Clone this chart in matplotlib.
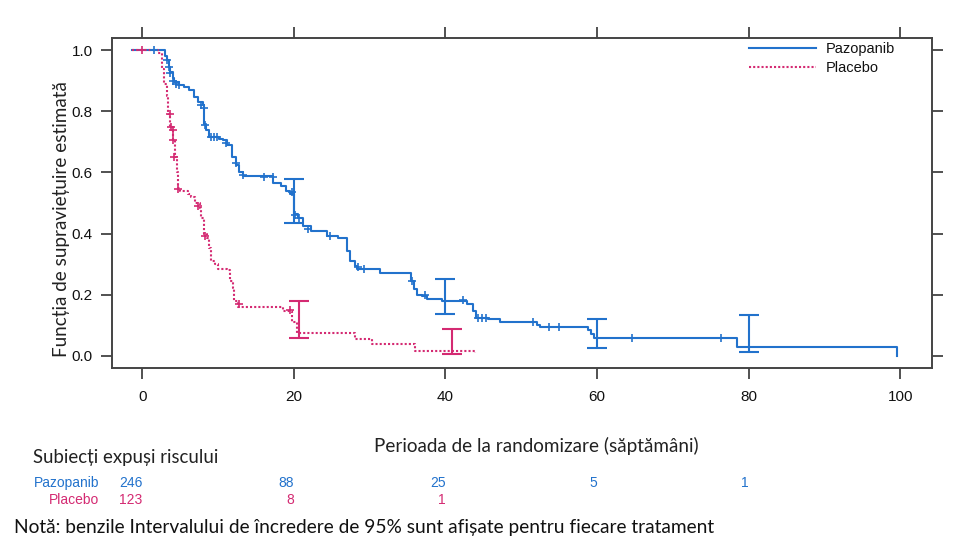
import numpy as np
import matplotlib
matplotlib.use("Agg")
import matplotlib.pyplot as plt
import matplotlib.transforms as mtransforms

# Kaplan-Meier step points (weeks, survival)
paz_t = [-1.3, 3.0, 3.3, 3.5, 3.7, 4.0, 4.2, 4.8, 5.5, 6.1, 6.8, 7.4, 8.0, 8.2, 8.4, 8.8,
         10.1, 10.7, 11.2, 11.9, 12.3, 12.7, 13.3, 17.3, 18.3, 19.0, 19.5, 20.0, 20.5,
         21.2, 22.2, 24.4, 25.8, 27.0, 27.4, 28.0, 28.3, 31.4, 35.4, 35.8, 36.3, 36.9,
         37.6, 39.5, 42.9, 43.6, 44.0, 45.6, 47.2, 52.1, 52.5, 58.8, 59.2, 59.6, 78.5, 99.6]
paz_s = [1.0, 0.98, 0.967, 0.945, 0.93, 0.91, 0.895, 0.885, 0.88, 0.87, 0.846, 0.83, 0.82,
         0.76, 0.738, 0.715, 0.71, 0.705, 0.69, 0.65, 0.623, 0.60, 0.587, 0.567, 0.557,
         0.54, 0.53, 0.465, 0.45, 0.426, 0.41, 0.393, 0.387, 0.344, 0.31, 0.295, 0.285,
         0.27, 0.246, 0.22, 0.20, 0.197, 0.187, 0.18, 0.17, 0.148, 0.125, 0.12, 0.11,
         0.10, 0.093, 0.085, 0.07, 0.057, 0.03, 0.0]

pla_t = [-1.3, 2.1, 2.6, 2.9, 3.2, 3.4, 3.6, 4.0, 4.1, 4.3, 4.6, 4.7, 5.0, 6.0, 6.4, 6.9,
         7.6, 7.8, 8.1, 8.6, 8.8, 9.1, 9.6, 10.0, 11.2, 11.6, 12.0, 12.1, 12.6, 18.5, 19.8,
         20.4, 28.1, 30.3, 36.0, 43.7, 43.9]
pla_s = [1.0, 0.99, 0.94, 0.89, 0.85, 0.79, 0.75, 0.74, 0.705, 0.65, 0.60, 0.55, 0.54,
         0.53, 0.52, 0.50, 0.485, 0.45, 0.40, 0.387, 0.354, 0.31, 0.30, 0.285, 0.28, 0.246,
         0.223, 0.18, 0.16, 0.148, 0.11, 0.075, 0.056, 0.04, 0.016, 0.016, 0.008]

# censored observations
paz_cens_t = [1.5, 3.3, 3.5, 3.7, 4.0, 4.4, 4.8, 7.7, 8.1, 8.3, 9.0, 9.4, 9.8, 11.0, 12.3,
              13.3, 16.1, 17.3, 19.8, 20.1, 20.7, 21.8, 24.7, 28.4, 29.2, 35.6, 37.3, 42.3,
              44.3, 44.8, 45.3, 51.6, 53.6, 55.0, 64.6, 76.3]
paz_cens_s = [1.0, 0.967, 0.945, 0.925, 0.90, 0.89, 0.885, 0.82, 0.81, 0.755, 0.715, 0.715,
              0.715, 0.695, 0.63, 0.593, 0.585, 0.585, 0.535, 0.46, 0.45, 0.416, 0.393,
              0.29, 0.285, 0.246, 0.20, 0.184, 0.125, 0.125, 0.125, 0.11, 0.093, 0.093,
              0.057, 0.057]
pla_cens_t = [0.0, 3.6, 3.8, 4.0, 4.1, 4.2, 4.7, 7.4, 8.3, 12.8, 19.5]
pla_cens_s = [1.0, 0.79, 0.75, 0.74, 0.705, 0.65, 0.545, 0.49, 0.393, 0.17, 0.15]

# 95% CI bands
paz_ci_t = [20, 40, 60, 80]
paz_ci_lo = [0.436, 0.137, 0.026, 0.013]
paz_ci_hi = [0.58, 0.252, 0.121, 0.134]
pla_ci_t = [20.7, 40.8]
pla_ci_lo = [0.059, 0.007]
pla_ci_hi = [0.18, 0.089]

# numbers at risk
risk_t = [0, 20, 40, 60, 80]
paz_risk = ["246", "88", "25", "5", "1"]
pla_risk = ["123", "8", "1"]

BLUE = "#2272cc"
PINK = "#d42a72"
arial = ["Liberation Sans", "DejaVu Sans"]
human = ["Lato", "DejaVu Sans"]

fig = plt.figure(figsize=(9.55, 5.46), dpi=100)
ax = fig.add_axes([112 / 955, 1 - 368 / 546, 820 / 955, 330 / 546])

ax.step(paz_t, paz_s, where="post", color=BLUE, lw=1.5, label="Pazopanib")
ax.step(pla_t, pla_s, where="post", color=PINK, lw=1.5, ls=(0, (1, 1)), label="Placebo")
ax.plot(paz_cens_t, paz_cens_s, "+", color=BLUE, ms=6, mew=1.2)
ax.plot(pla_cens_t, pla_cens_s, "+", color=PINK, ms=6, mew=1.2)


def ci(t, lo, hi, col):
    lo = np.array(lo)
    hi = np.array(hi)
    mid = (lo + hi) / 2
    ax.errorbar(t, mid, yerr=(hi - lo) / 2, fmt="none", ecolor=col,
                elinewidth=1.5, capsize=7.5, capthick=1.5)


ci(paz_ci_t, paz_ci_lo, paz_ci_hi, BLUE)
ci(pla_ci_t, pla_ci_lo, pla_ci_hi, PINK)

ax.set_xlim(-4, 104.2)
ax.set_ylim(-0.04, 1.04)
ax.set_xticks([0, 20, 40, 60, 80, 100])
ax.set_yticks([0.0, 0.2, 0.4, 0.6, 0.8, 1.0])
ax.set_yticklabels(["0.0", "0.2", "0.4", "0.6", "0.8", "1.0"])
ax.tick_params(direction="out", length=8, width=1.2, top=True, right=True,
               colors="#333333", labelcolor="#111111", labelsize=11)
ax.tick_params(axis="x", pad=8)
ax.tick_params(axis="y", pad=6)
for lab in ax.get_xticklabels() + ax.get_yticklabels():
    lab.set_family(arial)
for sp in ax.spines.values():
    sp.set_color("#444444")
    sp.set_linewidth(1.4)

leg = ax.legend(loc="upper left", bbox_to_anchor=(0.772, 1.0), frameon=False,
                handlelength=4.6, handletextpad=0.65, labelspacing=0.3,
                borderaxespad=0.0, borderpad=0.3, prop={"family": arial, "size": 10.5})
for txt in leg.get_texts():
    txt.set_color("#111111")

fig.text(62 / 955, 1 - 219 / 546, "Funcția de supraviețuire estimată", rotation=90,
         ha="center", va="center", family=human, fontsize=13.6, color="#222222")
fig.text(536 / 955, 1 - 446 / 546, "Perioada de la randomizare (săptămâni)",
         ha="center", va="center", family=human, fontsize=13.6, color="#222222")
fig.text(33 / 955, 1 - 458 / 546, "Subiecți expuși riscului", ha="left", va="center",
         family=human, fontsize=13.4, color="#222222")
fig.text(99 / 955, 1 - 483 / 546, "Pazopanib", ha="right", va="center",
         family=arial, fontsize=10, color=BLUE)
fig.text(99 / 955, 1 - 500 / 546, "Placebo", ha="right", va="center",
         family=arial, fontsize=10, color=PINK)

tr = mtransforms.blended_transform_factory(ax.transData, fig.transFigure)
for t, n in zip(risk_t, paz_risk):
    ax.text(t, 1 - 483 / 546, n, transform=tr, ha="right", va="center",
            family=arial, fontsize=10, color=BLUE)
for t, n in zip(risk_t, pla_risk):
    ax.text(t, 1 - 500 / 546, n, transform=tr, ha="right", va="center",
            family=arial, fontsize=10, color=PINK)

fig.text(14 / 955, 1 - 527 / 546,
         "Notă: benzile Intervalului de încredere de 95% sunt afișate pentru fiecare tratament",
         ha="left", va="center", family=human, fontsize=13.8, color="#111111")

fig.savefig("out.png", dpi=100)
